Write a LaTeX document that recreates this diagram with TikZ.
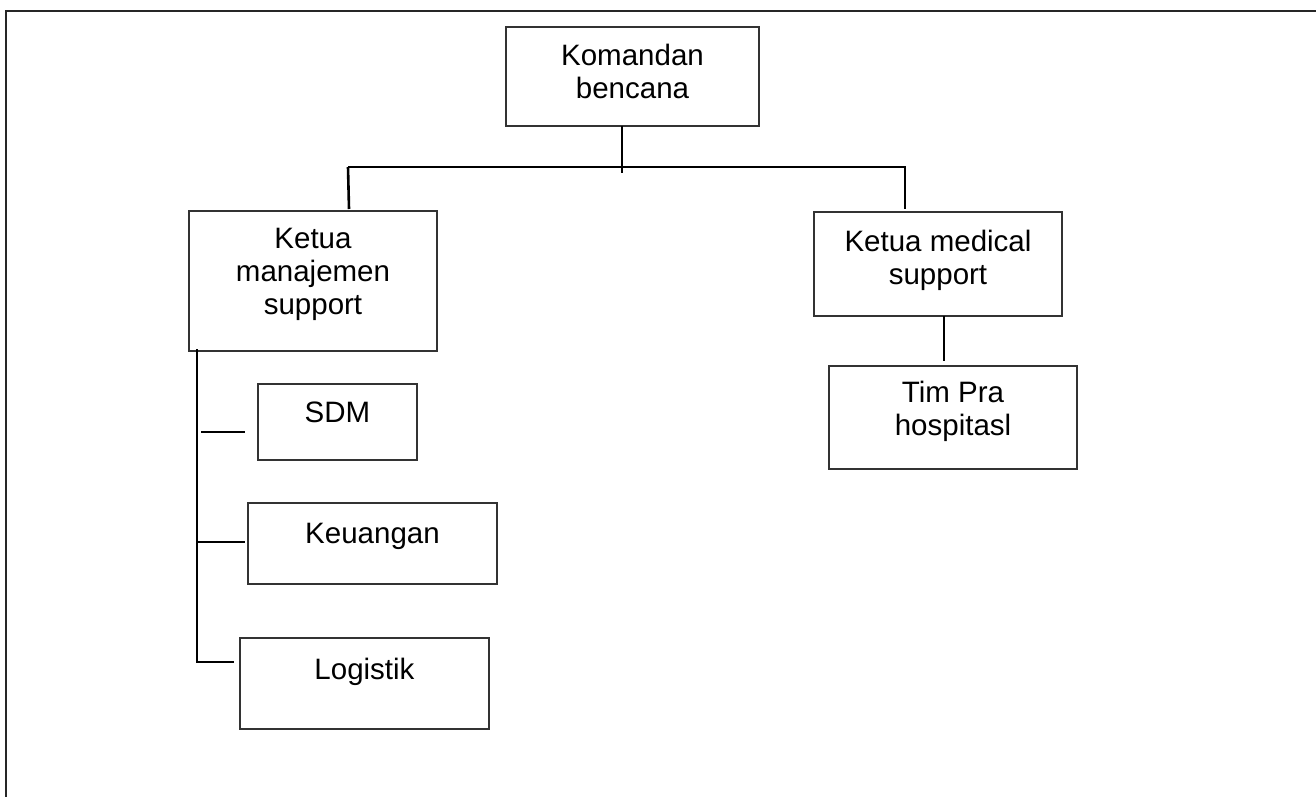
\documentclass[tikz,border=0pt]{standalone}
\usepackage{fontspec}
\setmainfont{Liberation Sans}
\begin{document}
\begin{tikzpicture}[x=1pt,y=-1pt,
  orgbox/.style={draw=black!80, line width=1.4pt, fill=white, rectangle, inner sep=0pt},
  txt/.style={inner sep=0pt, align=center, font=\fontsize{29.5}{33}\selectfont},
  conn/.style={draw=black, line width=2.6pt},
  frame/.style={draw=black!85, line width=2pt}]
\useasboundingbox (0,0) rectangle (1316,796);
\fill[white] (0,0) rectangle (1316,796);
\draw[frame] (6,800) -- (6,11) -- (1320,11);

% boxes
\node[orgbox, minimum width=253pt, minimum height=99pt] (kom) at (632.5,76.5) {};
\node[orgbox, minimum width=248pt, minimum height=140pt] (mgmt) at (313,281) {};
\node[orgbox, minimum width=248pt, minimum height=104pt] (med) at (938,264) {};
\node[orgbox, minimum width=248pt, minimum height=103pt] (tim) at (953,417.5) {};
\node[orgbox, minimum width=159pt, minimum height=76pt] (sdm) at (337.5,422) {};
\node[orgbox, minimum width=249pt, minimum height=81pt] (keu) at (372.5,543.5) {};
\node[orgbox, minimum width=249pt, minimum height=91pt] (log) at (364.5,683.5) {};

% texts
\node[txt, anchor=north] (komT) at ([yshift=-18pt]kom.north) {Komandan\\bencana};
\node[txt, anchor=north] (mgmtT) at ([yshift=-18pt]mgmt.north) {Ketua\\manajemen\\support};
\node[txt, anchor=north] (medT) at ([yshift=-19pt]med.north) {Ketua medical\\support};
\node[txt, anchor=north] (timT) at ([yshift=-16pt]tim.north) {Tim Pra\\hospitasl};
\node[txt, anchor=north] (sdmT) at ([yshift=-18pt]sdm.north) {SDM};
\node[txt, anchor=north] (keuT) at ([yshift=-21pt]keu.north) {Keuangan};
\node[txt, anchor=north] (logT) at ([yshift=-21pt]log.north) {Logistik};

% junction coordinates
\coordinate (komOut) at (622,126);
\coordinate (komEnd) at (622,173);
\coordinate (busL) at (348,167);
\coordinate (busR) at (906,167);
\coordinate (mgmtIn) at (349,209);
\coordinate (medIn) at (905,209);
\coordinate (spineTop) at (197,349);
\coordinate (spineBot) at (197,663);
\coordinate (sdmA) at (201,432);
\coordinate (sdmB) at (245,432);
\coordinate (keuA) at (197,542);
\coordinate (keuB) at (245,542);
\coordinate (logA) at (196,662);
\coordinate (logB) at (234,662);
\coordinate (medOut) at (944,316);
\coordinate (timIn) at (944,361);

% connectors
\draw[conn] (komOut) -- (komEnd);
\draw[conn] (busL) -- (busR);
\draw[conn] (busL) -- (mgmtIn);
\draw[conn] (busR -| medIn) -- (medIn);
\draw[conn] (spineTop) -- (spineBot);
\draw[conn, line width=1.8pt] (sdmA) -- (sdmB);
\draw[conn, line width=1.8pt] (keuA) -- (keuB);
\draw[conn] (logA) -- (logB);
\draw[conn] (medOut) -- (timIn);
\end{tikzpicture}
\end{document}
